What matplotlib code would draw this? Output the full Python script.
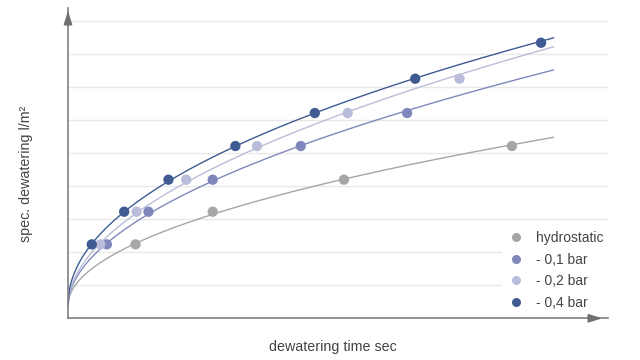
import numpy as np
import matplotlib
matplotlib.use("Agg")
import matplotlib.pyplot as plt
from matplotlib.lines import Line2D

plt.rcParams['font.family'] = ['Liberation Sans', 'DejaVu Sans']

series_names = ["hydrostatic", "- 0,1 bar", "- 0,2 bar", "- 0,4 bar"]
colors = ["#a6a6a8", "#8088bb", "#babdd9", "#3f5b92"]

x_hydro = [12.5, 26.8, 51.1, 82.2]
y_hydro = [2.24, 3.23, 4.20, 5.22]
x_01 = [7.2, 14.9, 26.8, 43.1, 62.8]
y_01 = [2.24, 3.23, 4.20, 5.22, 6.22]
x_02 = [6.0, 12.7, 21.9, 35.0, 51.8, 72.5]
y_02 = [2.24, 3.23, 4.20, 5.22, 6.22, 7.26]
x_04 = [4.4, 10.4, 18.6, 31.0, 45.7, 64.3, 87.6]
y_04 = [2.24, 3.23, 4.20, 5.22, 6.22, 7.26, 8.35]

curve_start = 0.4   # intercept of fitted curves
curve_end_x = 89.9
grid_levels = [1, 2, 3, 4, 5, 6, 7, 8, 9]

xs_all = [x_hydro, x_01, x_02, x_04]
ys_all = [y_hydro, y_01, y_02, y_04]

fig = plt.figure(figsize=(6.4, 3.6), dpi=100)
W, H = 640, 360
left, right, bottom, top = 68, 608, 318.3, 8
ax = fig.add_axes([left / W, (H - bottom) / H, (right - left) / W, (bottom - top) / H])
ax.set_xlim(0, (right - left) / 5.4)
ax.set_ylim(0, (bottom - top) / 33.0)

for g in grid_levels:
    ax.axhline(g, color="#e9e9ea", lw=1.0, zorder=0)

for xs, ys, c in zip(xs_all, ys_all, colors):
    xs = np.array(xs); ys = np.array(ys)
    p, lc = np.polyfit(np.log(xs), np.log(ys - curve_start), 1)
    xx = np.linspace(0, curve_end_x, 400)
    yy = curve_start + np.exp(lc) * xx ** p
    ax.plot(xx, yy, color=c, lw=1.0, zorder=2)
    ax.scatter(xs, ys, s=55, color=c, zorder=3, edgecolors='none')

for s in ["top", "right"]:
    ax.spines[s].set_visible(False)
for s in ["left", "bottom"]:
    ax.spines[s].set_color("#808080")
    ax.spines[s].set_linewidth(1.2)
    ax.spines[s].set_zorder(4)
ax.set_xticks([]); ax.set_yticks([])

# arrows
ax.annotate("", xy=(0, 1.0), xytext=(0, 0.97), xycoords="axes fraction",
            arrowprops=dict(arrowstyle="-|>,head_length=0.8,head_width=0.25", color="#707070", lw=1.2),
            zorder=5)
ax.annotate("", xy=(1.0 - 3 / 540, 0), xytext=(0.96, 0), xycoords="axes fraction",
            arrowprops=dict(arrowstyle="-|>,head_length=0.8,head_width=0.25", color="#707070", lw=1.2),
            zorder=5)

handles = [Line2D([], [], marker='o', linestyle='none', markersize=6.5, color=c, markeredgewidth=0) for c in colors]
leg = ax.legend(handles, series_names, loc="lower right",
                bbox_to_anchor=(610 / W, 1 - 317 / H), bbox_transform=fig.transFigure,
                frameon=True, fontsize=10, labelspacing=0.56, handletextpad=0.9,
                borderpad=0.5, handlelength=1.0, fancybox=False, borderaxespad=0)
leg.get_frame().set_facecolor("white")
leg.get_frame().set_edgecolor("none")
leg.get_frame().set_alpha(1.0)
leg.set_zorder(1)
for t in leg.get_texts():
    t.set_color("#444444")

fig.text(333 / W, 1 - 347 / H, "dewatering time sec", ha="center", va="center", fontsize=10.3, color="#444444")
fig.text(26 / W, 1 - 174 / H, "spec. dewatering l/m²", ha="center", va="center", rotation=90, fontsize=10.3, color="#444444")

fig.savefig("out.png", dpi=100)
